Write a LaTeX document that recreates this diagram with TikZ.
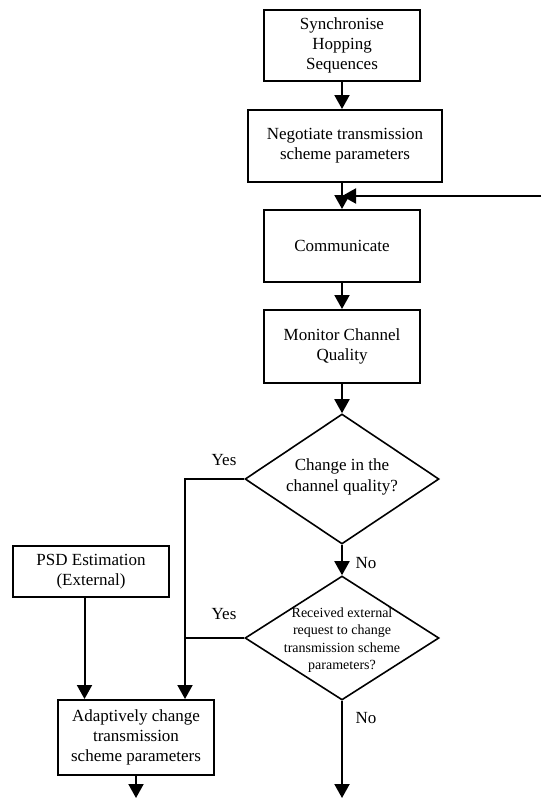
\documentclass[tikz,border=0pt]{standalone}
\usepackage{fontspec}
\setmainfont{Liberation Serif}
\usetikzlibrary{shapes.geometric,arrows.meta,calc}
\begin{document}
\begin{tikzpicture}[x=1pt,y=-1pt,
  box/.style={draw,line width=2pt,align=center,inner sep=0pt,font=\fontsize{17}{20}\selectfont},
  dec/.style={draw,diamond,line width=1.6pt,inner sep=0pt,minimum width=194pt,minimum height=130pt},
  dtext/.style={align=center,inner sep=0pt},
  arr/.style={line width=2pt,-{Triangle[length=14pt,width=15pt]}},
  ln/.style={line width=2pt},
  lbl/.style={font=\fontsize{17}{20}\selectfont,inner sep=0pt}]
\useasboundingbox (0,0) rectangle (541,798);
\node[box,minimum width=156pt,minimum height=71pt] (s1) at (342,45.5) {Synchronise\\Hopping\\Sequences};
\node[box,minimum width=194pt,minimum height=72pt] (s2) at (345,146) {Negotiate transmission\\scheme parameters};
\node[box,minimum width=156pt,minimum height=72pt] (com) at (342,246) {Communicate};
\node[box,minimum width=156pt,minimum height=73pt] (mon) at (342,346.5) {Monitor Channel\\Quality};
\node[dec] (d1) at (342,479) {};
\node[dtext,font=\fontsize{17}{21}\selectfont] (t1) at (342,477) {Change in the\\channel quality?};
\node[box,minimum width=156pt,minimum height=51pt] (psd) at (91,571.5) {PSD Estimation\\(External)};
\node[dec,minimum height=124pt] (d2) at (342,638) {};
\node[dtext,font=\fontsize{14}{17.5}\selectfont] (t2) at (342,640) {Received external\\request to change\\transmission scheme\\parameters?};
\node[box,minimum width=156pt,minimum height=75pt] (ada) at (136,737.5) {Adaptively change\\transmission\\scheme parameters};
\coordinate (fb) at (541,196);
\coordinate (yin) at (185,0);
\coordinate (pin) at (84.5,0);
\coordinate (e1) at (136,798);
\coordinate (e2) at (342,798);
\draw[arr] (s1.south) -- (s1.south |- s2.north);
\draw[arr] (s2.south -| com.north) -- (com.north);
\draw[arr] (fb) -- (fb -| com.north);
\draw[arr] (com.south) -- (mon.north);
\draw[arr] (mon.south) -- (d1.north);
\draw[arr] (d1.south) -- (d2.north);
\draw[arr] (d1.west) -| (yin |- ada.north);
\draw[ln] (d2.west) -- (yin |- d2.west);
\draw[arr] (pin |- psd.south) -- (pin |- ada.north);
\draw[arr] (ada.south) -- (e1);
\draw[arr] (d2.south) -- (e2);
\node[lbl] (y1) at (224,460) {Yes};
\node[lbl] (y2) at (224,614) {Yes};
\node[lbl] (n1) at (366,563) {No};
\node[lbl] (n2) at (366,718) {No};
\end{tikzpicture}
\end{document}
